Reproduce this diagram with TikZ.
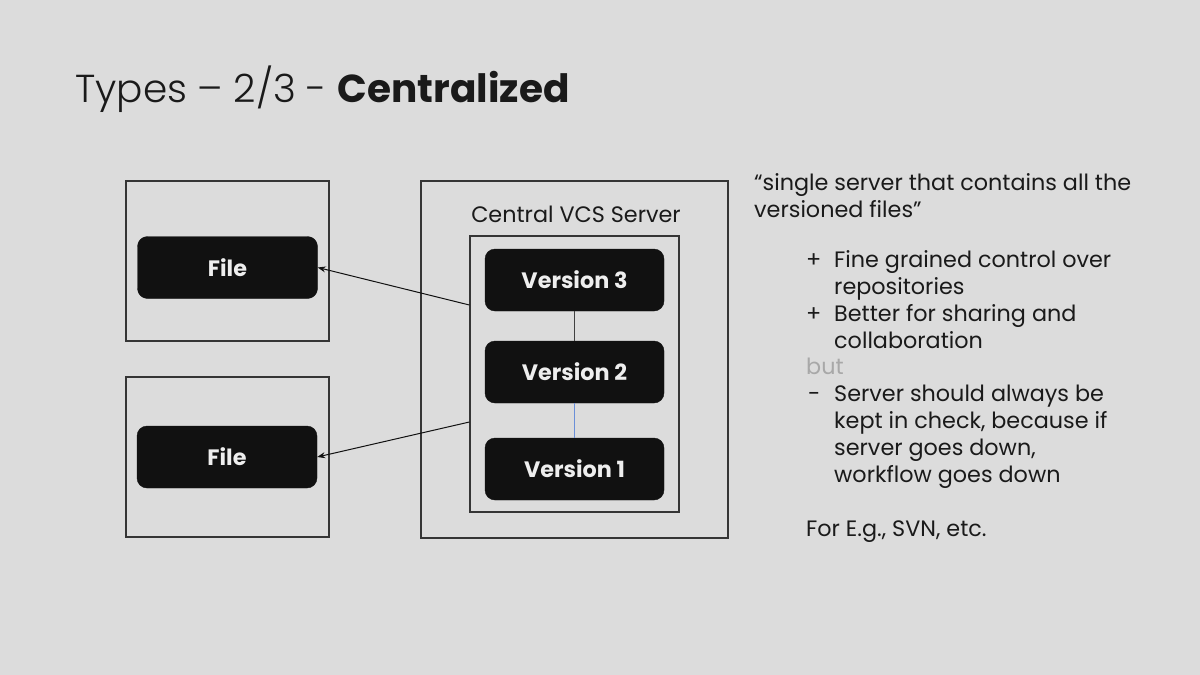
\documentclass[tikz,border=0pt]{standalone}
\usepackage{fontspec}
\setmainfont{Poppins}
\newfontfamily\titlelight{Poppins Light}
\usetikzlibrary{arrows.meta}
\definecolor{bg}{HTML}{DCDCDC}
\definecolor{ink}{HTML}{111111}
\definecolor{txt}{HTML}{1A1A1A}
\definecolor{butgray}{HTML}{A8A8A8}
\definecolor{lineblue}{HTML}{6A8FD8}
\definecolor{boxtext}{HTML}{EEEEEE}
\tikzset{
  frame/.style={draw=ink!85, line width=1.2pt, rectangle, inner sep=0pt},
  blackbox/.style={fill=ink, draw=ink, rounded corners=10pt, minimum width=180pt, minimum height=62pt, text=boxtext, font=\fontsize{22.3}{26}\selectfont\bfseries, inner sep=0pt},
  conn/.style={draw=ink, line width=1pt, -{Stealth[length=8pt,width=6pt]}},
  body/.style={anchor=base west, inner sep=0pt, text=txt, font=\fontsize{22.3}{26.8}\selectfont, align=left},
}
\begin{document}
\begin{tikzpicture}[x=1pt,y=-1pt]
\fill[bg] (0,0) rectangle (1200,675);
\useasboundingbox (0,0) rectangle (1200,675);
% title
\node[anchor=base west, inner sep=0pt, text=txt, font=\fontsize{39}{45}\selectfont] (title) at (75,102) {{\titlelight Types – 2/3 - }\textbf{Centralized}};
% client boxes
\node[frame, minimum width=203pt, minimum height=160pt] (client1) at (227.5,261) {};
\node[frame, minimum width=203pt, minimum height=160pt] (client2) at (227.5,457) {};
\node[blackbox] (file1) at (227.5,267.5) {File};
\node[blackbox] (file2) at (227,457) {File};
% server
\node[frame, minimum width=307pt, minimum height=357pt] (server) at (574.5,359.5) {};
\node[anchor=base, inner sep=0pt, text=txt, font=\fontsize{22.3}{26}\selectfont] (serverlabel) at (576,222.5) {Central VCS Server};
\node[frame, minimum width=209pt, minimum height=276pt] (inner) at (574.5,374) {};
\node[blackbox, minimum width=179pt] (v3) at (574.5,280) {Version 3};
\node[blackbox, minimum width=179pt] (v2) at (574.5,372) {Version 2};
\node[blackbox, minimum width=179pt] (v1) at (574.5,469) {Version 1};
\draw[draw=ink!80, line width=0.8pt] (v3.south) -- (v2.north);
\draw[draw=lineblue, line width=0.8pt] (v2.south) -- (v1.north);
% connectors
\coordinate (out1) at ([yshift=69pt]inner.west);
\coordinate (out2) at ([yshift=-48pt]inner.west);
\draw[conn] (out1) -- (file1.east);
\draw[conn] (out2) -- (file2.east);
% right text (base anchor = last line baseline)
\node[body] (quote) at (754,217) {“single server that contains all the\\versioned files”};
\node[body] (plus1) at (806,267) {+};
\node[body] (item1) at (834,294) {Fine grained control over\\repositories};
\node[body] (plus2) at (806,321) {+};
\node[body] (item2) at (834,348) {Better for sharing and\\collaboration};
\node[body, text=butgray] (but) at (806,374) {but};
\node[body] (minus) at (808,401) {-};
\node[body] (item3) at (834,482) {Server should always be\\kept in check, because if\\server goes down,\\workflow goes down};
\node[body] (eg) at (806,536) {For E.g., SVN, etc.};
\end{tikzpicture}
\end{document}
